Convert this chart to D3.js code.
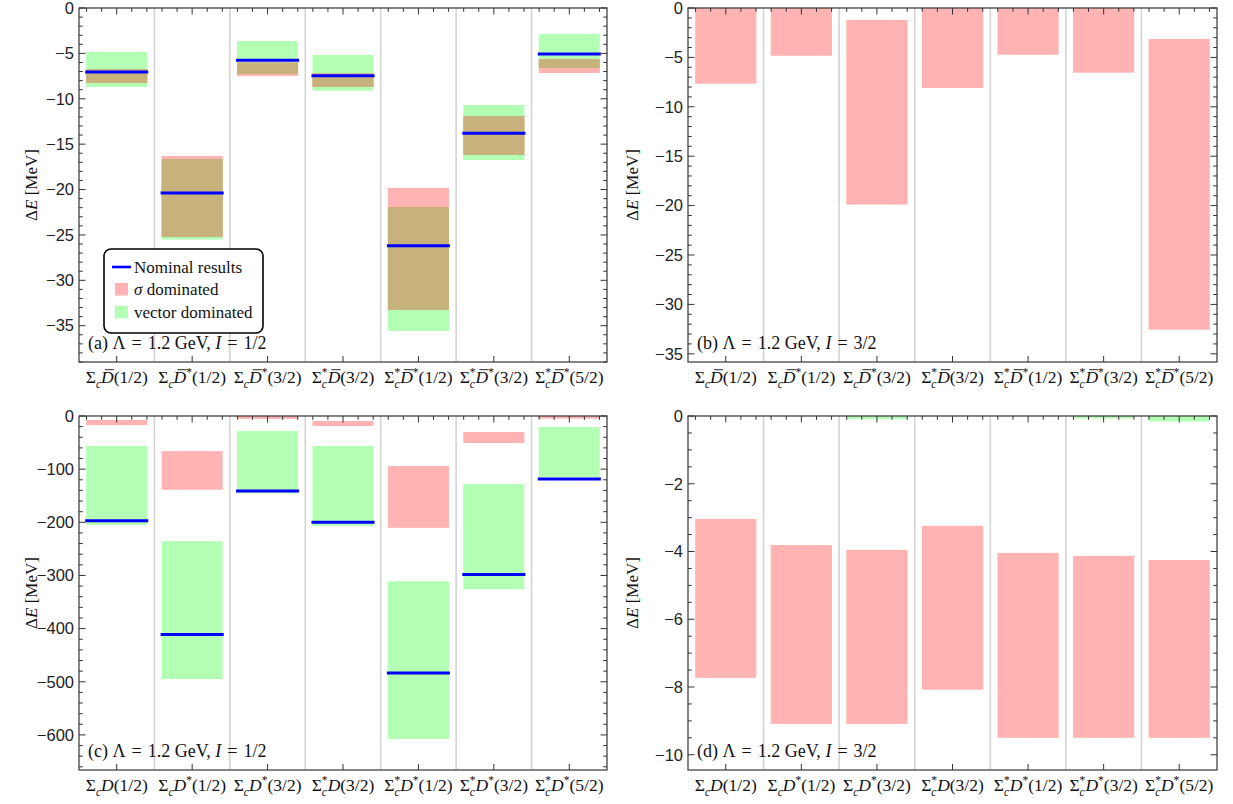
<!DOCTYPE html>
<html>
<head>
<meta charset="utf-8">
<script src="https://cdn.jsdelivr.net/npm/d3@7"></script>
<style>
body { margin: 0; background: #fff; }
svg { display: block; }
</style>
</head>
<body>
<svg id="chart" width="1233" height="804"></svg>
<script>
// channel names: _x = subscript, ^x = superscript, \u0304 = bar over the letter before it
var catsAnti = ["Σ_cD\u0304(1/2)", "Σ_cD\u0304^*(1/2)", "Σ_cD\u0304^*(3/2)", "Σ_c^*D\u0304(3/2)",
                "Σ_c^*D\u0304^*(1/2)", "Σ_c^*D\u0304^*(3/2)", "Σ_c^*D\u0304^*(5/2)"];
var catsD = ["Σ_cD(1/2)", "Σ_cD^*(1/2)", "Σ_cD^*(3/2)", "Σ_c^*D(3/2)",
             "Σ_c^*D^*(1/2)", "Σ_c^*D^*(3/2)", "Σ_c^*D^*(5/2)"];

// y tick labels
var ticksA = [0, -5, -10, -15, -20, -25, -30, -35];
var ticksB = [0, -5, -10, -15, -20, -25, -30, -35];
var ticksC = [0, -100, -200, -300, -400, -500, -600];
var ticksD = [0, -2, -4, -6, -8, -10];

// (a) Lambda = 1.2 GeV, I = 1/2, Sigma_c Dbar
var aSigmaLo  = [-8.26, -25.23, -7.49, -8.70, -33.27, -16.19, -7.16];
var aSigmaHi  = [-6.72, -16.30, -6.00, -7.20, -19.83, -11.90, -5.62];
var aVectorLo = [-8.70, -25.52, -7.27, -9.11, -35.58, -16.75, -6.61];
var aVectorHi = [-4.85, -16.64, -3.64, -5.18, -21.92, -10.69, -2.86];
var aNominal  = [-7.05, -20.38, -5.77, -7.46, -26.20, -13.81, -5.07];

// (b) I = 3/2, Sigma_c Dbar
var bSigmaLo  = [-7.66, -4.83, -19.90, -8.10, -4.73, -6.55, -32.56];
var bSigmaHi  = [0, 0, -1.21, 0, 0, 0, -3.14];

// (c) I = 1/2, Sigma_c D
var cSigmaLo  = [-17.0, -138.8, -5.5, -18.8, -210.4, -50.9, -5.0];
var cSigmaHi  = [-7.5, -66.0, 0, -9.4, -94.2, -30.1, 0];
var cVectorLo = [-204.8, -494.8, -145.6, -206.7, -607.7, -325.9, -115.5];
var cVectorHi = [-56.5, -235.5, -28.3, -56.5, -310.9, -128.1, -20.7];
var cNominal  = [-197.2, -411.3, -141.3, -199.7, -483.5, -298.3, -118.7];

// (d) I = 3/2, Sigma_c D
var dSigmaLo  = [-7.73, -9.09, -9.09, -8.08, -9.50, -9.50, -9.50];
var dSigmaHi  = [-3.04, -3.81, -3.95, -3.24, -4.04, -4.13, -4.25];
var dVectorLo = [0, 0, -0.09, 0, 0, -0.07, -0.16];
var dVectorHi = [0, 0, 0, 0, 0, 0, 0];

var PINK = "#ffb3b3", GREEN = "#b3ffb3", BOTH = "#c8b27c", BLUE = "#0000ff";
var SERIF = "'Liberation Serif', 'DejaVu Serif', serif";
var SANS = "'Liberation Sans', Arial, sans-serif";

var svg = d3.select("#chart");

// draw a channel name with sub/superscripts, centred at x
function mathLabel(g, s, x, y, size) {
  var t = g.append("text").attr("x", x).attr("y", y)
    .attr("text-anchor", "middle").attr("font-family", SERIF).attr("font-size", size).attr("fill", "#111");
  var shift = 0, idx = 0, bars = [], prevSub = null;
  for (var i = 0; i < s.length; i++) {
    var ch = s[i], ts;
    if (ch === "_" || ch === "^") {
      var c = s[++i];
      var off = ch === "_" ? size * 0.28 : -size * 0.4;
      ts = t.append("tspan").text(c).attr("font-size", size * 0.66).attr("dy", off - shift);
      if (/[a-z]/i.test(c)) ts.attr("font-style", "italic");
      if (ch === "^" && prevSub) ts.attr("dx", -prevSub.node().getComputedTextLength());
      shift = off;
      prevSub = ch === "_" ? ts : null;
      idx++;
      continue;
    }
    if (ch === "\u0304") { bars.push(idx - 1); continue; }
    ts = t.append("tspan").text(ch).attr("dy", -shift);
    shift = 0; prevSub = null;
    if (/[A-Za-z]/.test(ch)) ts.attr("font-style", "italic");
    idx++;
  }
  bars.forEach(function(k) {
    var e = t.node().getExtentOfChar(k);
    var yy = y - size * 0.76;
    g.append("line").attr("x1", e.x + e.width * 0.3).attr("x2", e.x + e.width * 1.02)
      .attr("y1", yy).attr("y2", yy).attr("stroke", "#111").attr("stroke-width", 0.9);
  });
}

function panel(p) {
  var g = svg.append("g");
  var x = d3.scaleBand().domain(d3.range(p.cats.length)).range([p.x0, p.x1]);
  var y = d3.scaleLinear().domain(p.domain).range([p.y1, p.y0]);
  var bw = x.bandwidth(), barW = bw * 0.81;

  // separators between channels
  g.selectAll(".sep").data(d3.range(1, p.cats.length)).join("line")
    .attr("x1", function(i) { return x(i); }).attr("x2", function(i) { return x(i); })
    .attr("y1", p.y0).attr("y2", p.y1)
    .attr("stroke", "#d4d4d4").attr("stroke-width", 1.6);

  function boxes(lo, hi, color) {
    g.append("g").selectAll("rect").data(d3.range(lo.length)).join("rect")
      .attr("x", function(i) { return x(i) + (bw - barW) / 2; })
      .attr("width", barW)
      .attr("y", function(i) { return y(hi[i]); })
      .attr("height", function(i) { return Math.max(0, y(lo[i]) - y(hi[i])); })
      .attr("fill", color);
  }
  if (p.vLo) boxes(p.vLo, p.vHi, GREEN);
  boxes(p.sLo, p.sHi, PINK);
  if (p.vLo) {
    var oLo = p.sLo.map(function(v, i) { return Math.max(v, p.vLo[i]); });
    var oHi = p.sHi.map(function(v, i) { return Math.min(v, p.vHi[i]); });
    boxes(oLo, oHi.map(function(v, i) { return Math.max(v, oLo[i]); }), BOTH);
  }
  if (p.nom) {
    g.append("g").selectAll("line").data(p.nom).join("line")
      .attr("x1", function(d, i) { return x(i) + (bw - barW) / 2 - 1; })
      .attr("x2", function(d, i) { return x(i) + (bw + barW) / 2 + 1; })
      .attr("y1", function(d) { return y(d); }).attr("y2", function(d) { return y(d); })
      .attr("stroke", BLUE).attr("stroke-width", 3);
  }

  // frame
  g.append("rect").attr("x", p.x0).attr("y", p.y0).attr("width", p.x1 - p.x0).attr("height", p.y1 - p.y0)
    .attr("fill", "none").attr("stroke", "#444").attr("stroke-width", 1.3);

  // y ticks (inward on both sides)
  var minors = d3.range(p.domain[1], p.domain[0] - 1e-9, -p.minor);
  var majors = p.ticks;
  function isMajor(v) { return majors.some(function(m) { return Math.abs(m - v) < 1e-6; }); }
  minors.forEach(function(v) {
    var L = isMajor(v) ? 6.5 : 3.8;
    g.append("line").attr("x1", p.x0).attr("x2", p.x0 + L).attr("y1", y(v)).attr("y2", y(v))
      .attr("stroke", "#333").attr("stroke-width", 1);
    g.append("line").attr("x1", p.x1).attr("x2", p.x1 - L).attr("y1", y(v)).attr("y2", y(v))
      .attr("stroke", "#333").attr("stroke-width", 1);
  });
  g.selectAll(".yl").data(majors).join("text")
    .attr("x", p.x0 - 5).attr("y", function(d) { return y(d); }).attr("dy", "0.35em")
    .attr("text-anchor", "end").attr("font-family", SANS).attr("font-size", 16.5).attr("fill", "#222")
    .text(function(d) { return d === 0 ? "0" : "\u2212" + Math.abs(d); });

  // x ticks: top with minors, bottom majors only
  d3.range(p.cats.length).forEach(function(i) {
    var cx = x(i) + bw / 2;
    [-2, -1, 0, 1, 2].forEach(function(k) {
      var L = k === 0 ? 6.5 : 3.8, xx = cx + k * bw / 5;
      g.append("line").attr("x1", xx).attr("x2", xx).attr("y1", p.y0).attr("y2", p.y0 + L)
        .attr("stroke", "#333").attr("stroke-width", 1);
    });
    g.append("line").attr("x1", cx).attr("x2", cx).attr("y1", p.y1).attr("y2", p.y1 - 6)
      .attr("stroke", "#333").attr("stroke-width", 1);
    mathLabel(g, p.cats[i], cx, p.y1 + 21, 17.5);
  });

  // y axis title
  var yt = g.append("text").attr("transform", "translate(" + p.ylx + "," + ((p.y0 + p.y1) / 2) + ") rotate(-90)")
    .attr("text-anchor", "middle").attr("font-family", SERIF).attr("font-size", 17).attr("fill", "#111");
  yt.append("tspan").text("Δ");
  yt.append("tspan").text("E").attr("font-style", "italic");
  yt.append("tspan").text(" [MeV]");

  // panel tag
  var tag = g.append("text").attr("x", p.x0 + 9).attr("y", p.y1 - 13)
    .attr("font-family", SERIF).attr("font-size", 18).attr("fill", "#111")
    .attr("xml:space", "preserve");
  tag.append("tspan").text("(" + p.tag + ") Λ\u2004=\u20041.2 GeV, ");
  tag.append("tspan").text("I").attr("font-style", "italic");
  tag.append("tspan").text("\u2004=\u2004" + p.iso);
  return { g: g, x: x, y: y };
}

var pa = panel({ cats: catsAnti, x0: 79, x1: 607, y0: 8, y1: 362, domain: [-39, 0], ticks: ticksA, minor: 1,
  sLo: aSigmaLo, sHi: aSigmaHi, vLo: aVectorLo, vHi: aVectorHi, nom: aNominal, ylx: 37, tag: "a", iso: "1/2" });
panel({ cats: catsAnti, x0: 688, x1: 1217, y0: 8, y1: 362, domain: [-35.83, 0], ticks: ticksB, minor: 1,
  sLo: bSigmaLo, sHi: bSigmaHi, ylx: 638, tag: "b", iso: "3/2" });
panel({ cats: catsD, x0: 79, x1: 607, y0: 416, y1: 770, domain: [-666, 0], ticks: ticksC, minor: 20,
  sLo: cSigmaLo, sHi: cSigmaHi, vLo: cVectorLo, vHi: cVectorHi, nom: cNominal, ylx: 37, tag: "c", iso: "1/2" });
panel({ cats: catsD, x0: 688, x1: 1217, y0: 416, y1: 770, domain: [-10.45, 0], ticks: ticksD, minor: 0.5,
  sLo: dSigmaLo, sHi: dSigmaHi, vLo: dVectorLo, vHi: dVectorHi, ylx: 638, tag: "d", iso: "3/2" });

// legend in panel (a)
var lg = pa.g.append("g").attr("transform", "translate(104,249)");
lg.append("rect").attr("width", 159).attr("height", 84).attr("rx", 7)
  .attr("fill", "#fff").attr("stroke", "#000").attr("stroke-width", 1.6);
lg.append("line").attr("x1", 8).attr("x2", 27).attr("y1", 18).attr("y2", 18).attr("stroke", BLUE).attr("stroke-width", 2.6);
lg.append("rect").attr("x", 11).attr("y", 34).attr("width", 13).attr("height", 12.5).attr("fill", PINK);
lg.append("rect").attr("x", 11).attr("y", 57).attr("width", 13).attr("height", 12.5).attr("fill", GREEN);
var lt = lg.append("g").attr("font-family", SERIF).attr("font-size", 17).attr("fill", "#111");
lt.append("text").attr("x", 30).attr("y", 23.5).text("Nominal results");
var l2 = lt.append("text").attr("x", 30).attr("y", 45.5);
l2.append("tspan").text("σ").attr("font-style", "italic");
l2.append("tspan").text(" dominated");
lt.append("text").attr("x", 30).attr("y", 68.5).text("vector dominated");
</script>
</body>
</html>
